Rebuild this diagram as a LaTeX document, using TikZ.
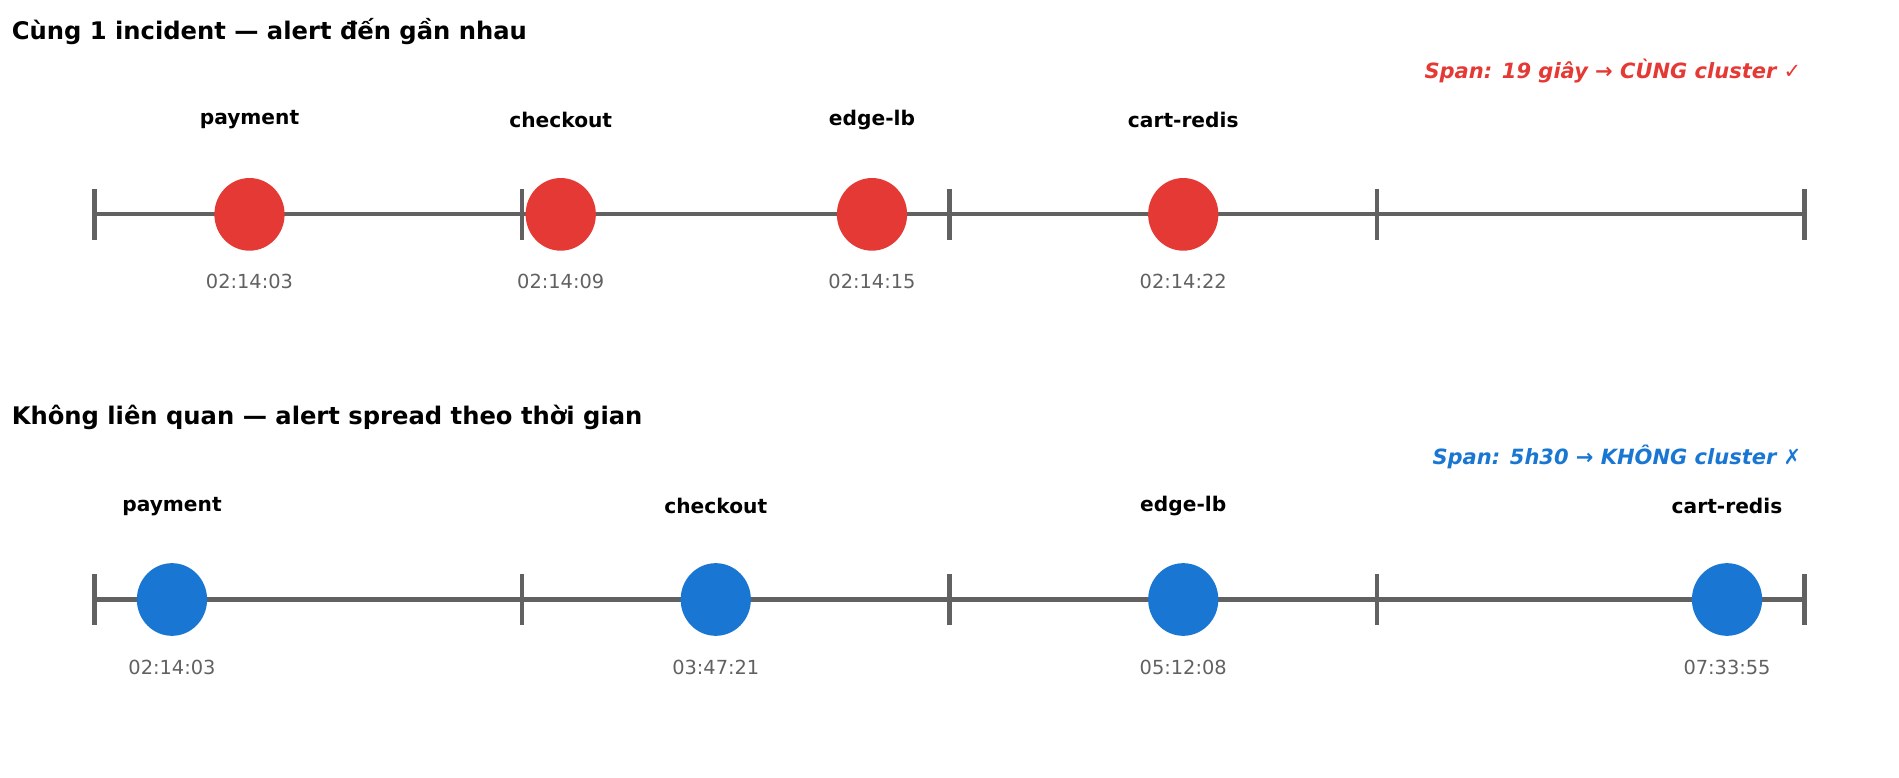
\documentclass[tikz,border=0pt]{standalone}
\usepackage{fontspec}
\usetikzlibrary{shapes.geometric}
\setmainfont{DejaVu Sans}
\definecolor{cred}{HTML}{E53935}
\definecolor{cblue}{HTML}{1976D2}
\definecolor{cgray}{HTML}{616161}
\begin{document}
\begin{tikzpicture}[x=0.75pt,y=-0.75pt,
  title/.style={anchor=west,font=\fontsize{15}{18}\selectfont\bfseries},
  span/.style={anchor=east,font=\fontsize{13}{16}\selectfont\bfseries\itshape},
  lab/.style={font=\fontsize{12.5}{15}\selectfont\bfseries},
  tim/.style={text=cgray,font=\fontsize{12}{15}\selectfont},
  axis/.style={draw=cgray,line width=2.6pt},
  dot/.style={ellipse,minimum width=43.5pt,minimum height=45pt,inner sep=0pt}]
\useasboundingbox (0,0) rectangle (1568,642);
% panel 1
\node[title] (t1) at (5,26) {Cùng 1 incident — alert đến gần nhau};
\node[span,text=cred] (s1) at (1492,59) {Span: 19 giây → CÙNG cluster ✓};
\coordinate (a1) at (78,177); \coordinate (b1) at (1490,177);
\draw[axis] (a1) -- (b1);
\foreach \x in {78,431,784,1137,1490} \draw[axis] (\x,156) -- (\x,198);
\foreach \x/\n/\t [count=\i] in {206/payment/02:14:03,463/checkout/02:14:09,720/edge-lb/02:14:15,977/cart-redis/02:14:22}{
  \node[dot,fill=cred] (r\i) at (\x,177) {};
  \node[lab] (rl\i) at (\x,99) {\n};
  \node[tim] (rt\i) at (\x,232) {\t};
}
% panel 2
\node[title] (t2) at (5,345) {Không liên quan — alert spread theo thời gian};
\node[span,text=cblue] (s2) at (1492,377) {Span: 5h30 → KHÔNG cluster ✗};
\coordinate (a2) at (78,495); \coordinate (b2) at (1490,495);
\draw[axis] (a2) -- (b2);
\foreach \x in {78,431,784,1137,1490} \draw[axis] (\x,474) -- (\x,516);
\foreach \x/\n/\t [count=\i] in {142/payment/02:14:03,591/checkout/03:47:21,977/edge-lb/05:12:08,1426/cart-redis/07:33:55}{
  \node[dot,fill=cblue] (u\i) at (\x,495) {};
  \node[lab] (ul\i) at (\x,418) {\n};
  \node[tim] (ut\i) at (\x,551) {\t};
}
\end{tikzpicture}
\end{document}
